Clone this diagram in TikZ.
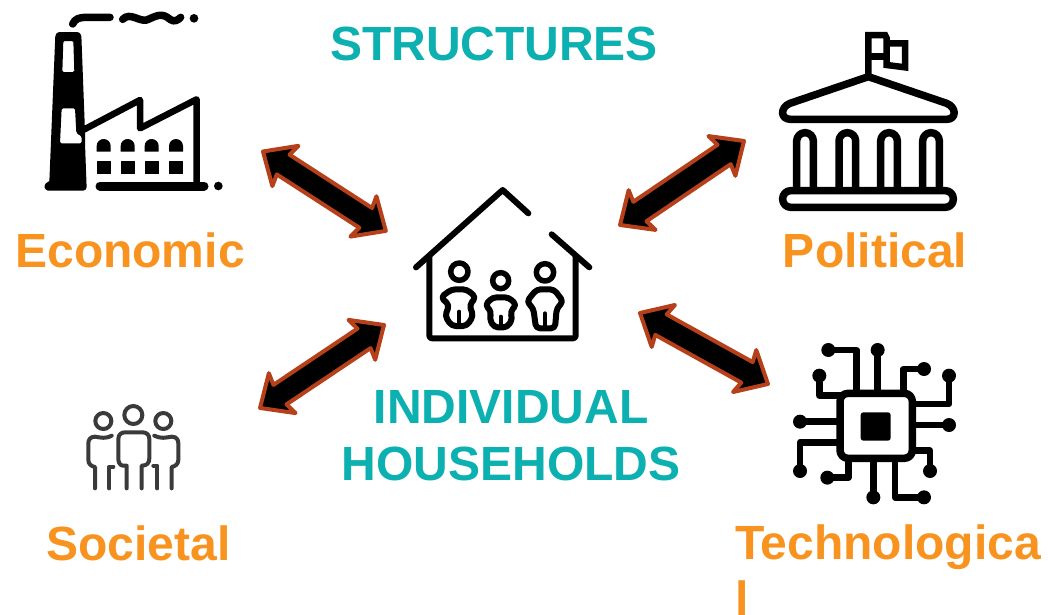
\documentclass[tikz,border=0pt]{standalone}
\usepackage{fontspec}
\setmainfont{Liberation Sans}
\usetikzlibrary{calc}
\definecolor{teal1}{HTML}{0CB0B0}
\definecolor{orange1}{HTML}{F7931E}
\definecolor{rust}{HTML}{B5401A}
\definecolor{grayicon}{HTML}{3A3A3A}
\tikzset{
  px/.style={line width=#1*0.75pt},
  icon/.style={draw=black,line cap=round,line join=round},
  bigtxt/.style={font=\fontsize{36}{42}\selectfont\bfseries,inner sep=0pt,outer sep=0pt},
  headline/.style={bigtxt,text=teal1},
  catlabel/.style={bigtxt,text=orange1},
  bidirarrow/.style={draw=rust,fill=black,line width=3pt,line join=round},
  zoomscope/.style={shift={#1},scale=1/3},
}
\newcommand\bidir[2]{%
  \draw[bidirarrow] let \p1=($(#2)-(#1)$),\n1={atan2(\y1,\x1)},\n2={veclen(\x1,\y1)} in
    ([shift={(#1)},rotate=\n1]0pt,0pt)
    -- ([shift={(#1)},rotate=\n1]20pt,18pt)
    -- ([shift={(#1)},rotate=\n1]18pt,8.8pt)
    -- ([shift={(#1)},rotate=\n1]\n2-18pt,8.8pt)
    -- ([shift={(#1)},rotate=\n1]\n2-20pt,18pt)
    -- ([shift={(#1)},rotate=\n1]\n2,0pt)
    -- ([shift={(#1)},rotate=\n1]\n2-20pt,-18pt)
    -- ([shift={(#1)},rotate=\n1]\n2-18pt,-8.8pt)
    -- ([shift={(#1)},rotate=\n1]18pt,-8.8pt)
    -- ([shift={(#1)},rotate=\n1]20pt,-18pt)
    -- cycle;}
\begin{document}
\begin{tikzpicture}[x=0.75pt,y=-0.75pt]
\useasboundingbox[fill=white] (0,0) rectangle (1048,614);

% texts
\node[headline] (structures) at (494,44) {STRUCTURES};
\node[headline,align=center] (households) at (511,436) {INDIVIDUAL\\[0.5pt]HOUSEHOLDS};
\node[catlabel,anchor=base] (economic) at (130,267) {Economic};
\node[catlabel,anchor=base] (political) at (875,267) {Political};
\node[catlabel,anchor=base] (societal) at (138.5,560) {Societal};
\node[catlabel,anchor=north west,align=left] (techno) at (735,525) {Technologica\\l};

% arrows
\coordinate (a1s) at (263,151.5); \coordinate (a1e) at (386,231);
\coordinate (a2s) at (744,141);   \coordinate (a2e) at (620,225);
\coordinate (a3s) at (384,325);   \coordinate (a3e) at (260,408);
\coordinate (a4s) at (640,313);   \coordinate (a4e) at (768,384);
\bidir{a1s}{a1e}
\bidir{a2s}{a2e}
\bidir{a3s}{a3e}
\bidir{a4s}{a4e}

% factory
\begin{scope}[zoomscope={(30,0)}]
  \fill[even odd rule,rounded corners=1pt]
    (76,105) -- (84,96) -- (146,96) -- (154,105) -- (165,395) -- (165,430) -- (170,565) -- (164,572) -- (50,572) -- (42,560) -- (50,546) -- (58,546) -- cycle
    (100,123) -- (130,123) -- (133,216) -- (97,216) -- cycle
    (95,325) -- (135,325) -- (139,398) -- (155,410) -- (155,430) -- (90,430) -- cycle;
  \draw[icon,px=6.5] (150,395) -- (330,300) -- (330,385) -- (500,298) -- (500,558);
  \draw[icon,px=9] (210,558) -- (522,558);
  \fill (565,558) circle (13);
  \foreach \cx in {221,293,365,438}{
    \fill (\cx-21,455) -- (\cx-21,438) arc[start angle=180,end angle=360,radius=21] -- (\cx+21,455) -- cycle;
    \fill (\cx-21,482) rectangle (\cx+21,522);
  }
  \draw[icon,px=7.5] (128,72) .. controls (135,55) and (150,52) .. (170,52) -- (240,52);
  \draw[icon,px=7.5] (278,58) .. controls (300,35) and (325,65) .. (350,60) .. controls (375,50) and (395,35) .. (420,58) .. controls (432,68) and (445,60) .. (452,52);
  \fill (492,55) circle (13);
\end{scope}

% government building
\begin{scope}[zoomscope={(770,20)}]
  \draw[icon,px=7.5] (295,170) -- (60,250) .. controls (30,262) and (30,298) .. (62,298) -- (530,298) .. controls (560,298) and (560,262) .. (530,250) -- cycle;
  \draw[icon,px=6.5,line cap=butt,line join=miter] (295,170) -- (295,45) -- (345,45) -- (350,55) -- (350,135) -- (405,142) -- (405,70) -- (350,70);
  \draw[icon,px=6.5,line cap=butt,line join=miter] (295,110) -- (350,110);
  \foreach \cx in {105,232,357,483}{
    \draw[icon,px=7.5,line cap=butt] (\cx-25,510) -- (\cx-25,363) arc[start angle=180,end angle=360,radius=25] -- (\cx+25,510);
  }
  \draw[icon,px=7.5,rounded corners=6pt] (38,512) rectangle (550,562);
\end{scope}

% house
\begin{scope}[zoomscope={(400,180)}]
  \draw[icon,px=6] (48,262) -- (308,30) -- (385,100);
  \draw[icon,px=6] (455,163) -- (568,262);
  \draw[icon,px=6,rounded corners=2pt] (88,230) -- (88,475) -- (527,475) -- (527,230);
  \draw[icon,px=5.5] (178,275) circle (26);
  \draw[icon,px=5.5] (302,302) circle (24);
  \draw[icon,px=5.5] (435,277) circle (26);
  \draw[icon,px=6,rounded corners=3pt] (155,328) -- (200,328) -- (228,352) -- (208,375) -- (220,408) -- (200,438) -- (155,438) -- (135,408) -- (148,375) -- (122,352) -- cycle;
  \draw[icon,px=4] (178,395) -- (178,438);
  \draw[icon,px=6,rounded corners=3pt] (278,352) -- (326,352) -- (350,375) -- (330,395) -- (338,415) -- (322,442) -- (282,442) -- (268,415) -- (275,395) -- (255,375) -- cycle;
  \draw[icon,px=4] (302,410) -- (302,442);
  \draw[icon,px=6,rounded corners=3pt] (410,328) -- (462,328) -- (490,365) -- (470,385) -- (465,445) -- (408,445) -- (400,385) -- (380,365) -- cycle;
  \draw[icon,px=4] (435,400) -- (435,445);
\end{scope}

% chip
\begin{scope}[zoomscope={(780,335)}]
  \draw[icon,px=7.5,rounded corners=6pt] (180,175) rectangle (397,370);
  \fill[rounded corners=2pt] (242,232) rectangle (332,317);
  \foreach \dotpt in {(145,45),(293,45),(432,102),(118,122),(507,122),(60,260),(507,270),(60,408),(450,408),(142,428),(280,487),(432,487)}{
    \fill \dotpt circle (21);
  }
  \draw[icon,px=6.5] (145,45) -- (230,45) -- (230,170);
  \draw[icon,px=6.5] (293,45) -- (293,170);
  \draw[icon,px=6.5] (432,102) -- (370,102) -- (370,170);
  \draw[icon,px=6.5] (118,122) -- (118,182) -- (180,182);
  \draw[icon,px=6.5] (507,122) -- (507,207) -- (397,207);
  \draw[icon,px=6.5] (60,260) -- (175,260);
  \draw[icon,px=6.5] (507,270) -- (400,270);
  \draw[icon,px=6.5] (60,408) -- (60,322) -- (175,322);
  \draw[icon,px=6.5] (450,408) -- (450,347) -- (400,347);
  \draw[icon,px=6.5] (142,428) -- (205,428) -- (205,375);
  \draw[icon,px=6.5] (280,487) -- (280,375);
  \draw[icon,px=6.5] (432,487) -- (345,487) -- (345,375);
\end{scope}

% people
\begin{scope}[zoomscope={(70,395)}]
  \tikzset{every path/.append style={draw=grayicon,line width=3pt,line cap=round,line join=round}}
  \draw (100,78) circle (24);
  \draw (190,60) circle (27);
  \draw (280,78) circle (24);
  \draw (170,280) -- (170,212) -- (158,212) .. controls (148,210) and (145,200) .. (145,190) -- (145,132) .. controls (145,118) and (155,112) .. (165,112) -- (218,112) .. controls (230,112) and (238,120) .. (238,132) -- (238,190) .. controls (238,205) and (230,212) .. (215,212) -- (215,280);
  \draw (125,122) .. controls (105,132) and (95,128) .. (75,125) .. controls (60,125) and (55,135) .. (55,145) -- (55,195) .. controls (55,208) and (65,214) .. (75,216) -- (75,280);
  \draw (118,280) -- (118,215) -- (130,215);
  \draw (253,122) .. controls (275,132) and (285,128) .. (305,125) .. controls (320,125) and (325,135) .. (325,145) -- (325,195) .. controls (325,208) and (315,214) .. (305,216) -- (305,280);
  \draw (262,280) -- (262,212) -- (250,212);
\end{scope}
\end{tikzpicture}
\end{document}
